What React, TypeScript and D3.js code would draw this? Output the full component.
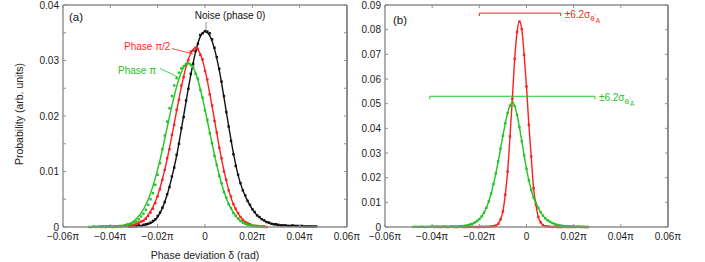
import React from 'react';
import * as d3 from 'd3';

// x in units of π, bins every 0.001π; fits sampled every 0.002π
const BIN = 0.001;
const FIT_STEP = 0.002;

const xTicks = [-0.06, -0.04, -0.02, 0, 0.02, 0.04, 0.06];
const yTicksA = [0, 0.01, 0.02, 0.03, 0.04];
const yMinorA = [0.005, 0.015, 0.025, 0.035];
const yTicksB = [0, 0.01, 0.02, 0.03, 0.04, 0.05, 0.06, 0.07, 0.08, 0.09];

// (a) noise, phase 0
const noiseStart = -0.032;
const noiseDots = [
  0.0001, 0.0001, 0.0002, 0.0001, 0.0003, 0.0002, 0.0004, 0.0005, 0.0006, 0.0008,
  0.0011, 0.0014, 0.002, 0.0026, 0.0035, 0.0045, 0.0059, 0.0072, 0.0091, 0.0107,
  0.013, 0.015, 0.0178, 0.0198, 0.0228, 0.0249, 0.0276, 0.0294, 0.0317, 0.033,
  0.0346, 0.0349, 0.0353, 0.0352, 0.0349, 0.0338, 0.0323, 0.0306, 0.0285, 0.0262,
  0.0236, 0.0207, 0.0181, 0.0155, 0.0131, 0.011, 0.0094, 0.0079, 0.0066, 0.0057,
  0.0047, 0.004, 0.0032, 0.0027, 0.0021, 0.0018, 0.0014, 0.0012, 0.0009, 0.0008,
  0.0006, 0.0005, 0.0005, 0.0004, 0.0003, 0.0003, 0.0003, 0.0002, 0.0002, 0.0003,
  0.0002, 0.0002, 0.0001, 0.0002, 0.0001, 0.0001, 0.0001, 0.0001, 0.0001, 0.0001,
];
const noiseFit = [
  0.0, 0.0001, 0.0002, 0.0003, 0.0005, 0.0009, 0.0018, 0.0034, 0.0058, 0.009,
  0.0128, 0.0176, 0.0226, 0.0274, 0.0315, 0.0343, 0.0352, 0.0345, 0.0321, 0.0283,
  0.0234, 0.0182, 0.0133, 0.0093, 0.0066, 0.0047, 0.0032, 0.0021, 0.0014, 0.0009,
  0.0006, 0.0004, 0.0003, 0.0003, 0.0002, 0.0002, 0.0001, 0.0001, 0.0001, 0.0001,
];

// (a) phase π/2
const halfStart = -0.044;
const halfDots = [
  0.0, 0.0001, 0.0, 0.0001, 0.0001, 0.0, 0.0001, 0.0001, 0.0001, 0.0001,
  0.0002, 0.0002, 0.0003, 0.0003, 0.0004, 0.0006, 0.0008, 0.001,
  0.0011, 0.0015, 0.002, 0.0026, 0.0033, 0.0043, 0.0055, 0.0068, 0.0085, 0.0103,
  0.0124, 0.014, 0.0166, 0.0184, 0.0211, 0.0229, 0.0255, 0.027, 0.0292, 0.0301,
  0.0316, 0.0318, 0.0323,
  0.0321, 0.031, 0.0302, 0.0281, 0.0266, 0.0239, 0.0219, 0.0191, 0.017, 0.0143,
  0.0124, 0.01, 0.0085, 0.0066, 0.0055, 0.0041, 0.0033, 0.0025, 0.0018, 0.0013,
  0.0009, 0.0007, 0.0005, 0.0003, 0.0002, 0.0002, 0.0001, 0.0001, 0.0001, 0.0,
];
const halfFit = [
  0.0, 0.0, 0.0, 0.0001, 0.0001, 0.0001, 0.0002, 0.0004, 0.0007, 0.0012,
  0.0022, 0.0036, 0.0057, 0.0086, 0.0122, 0.0164, 0.0209, 0.0252, 0.0289, 0.0313,
  0.0322, 0.0312, 0.0283, 0.0241, 0.0193, 0.0145, 0.0102, 0.0067, 0.0041, 0.0024,
  0.0013, 0.0007, 0.0003, 0.0002, 0.0001, 0.0,
];

// (a) phase π
const piStart = -0.049;
const piDots = [
  0.0, 0.0, 0.0001, 0.0, 0.0001, 0.0001, 0.0001, 0.0001, 0.0001, 0.0001,
  0.0001, 0.0001, 0.0001, 0.0002, 0.0002, 0.0003, 0.0004, 0.0005, 0.0006, 0.0009,
  0.001, 0.0014, 0.0019, 0.0024, 0.0031, 0.004, 0.005, 0.0061, 0.0076, 0.0094,
  0.0115, 0.014, 0.0165, 0.019, 0.0214, 0.0236, 0.0255, 0.0268, 0.0278, 0.0286,
  0.029, 0.0294, 0.0295,
  0.0292, 0.0289, 0.0276, 0.0267, 0.0247, 0.0233, 0.021, 0.0193, 0.0169, 0.0151,
  0.0128, 0.0112, 0.0092, 0.0079, 0.0063, 0.0053, 0.0041, 0.0034, 0.0025, 0.002,
  0.0015, 0.0011, 0.0008, 0.0006, 0.0004, 0.0003, 0.0002, 0.0002, 0.0001, 0.0001,
  0.0001, 0.0,
];
const piFit = [
  0.0, 0.0001, 0.0001, 0.0001, 0.0001, 0.0001, 0.0001, 0.0002, 0.0005, 0.0008,
  0.0015, 0.0025, 0.004, 0.0061, 0.0088, 0.0121, 0.0159, 0.0199, 0.0236, 0.0267,
  0.0288, 0.0295, 0.0287, 0.0265, 0.0231, 0.0191, 0.015, 0.0111, 0.0078, 0.0052,
  0.0033, 0.002, 0.0011, 0.0006, 0.0003, 0.0002, 0.0001, 0.0,
];

// (b) red and green
const redBStart = -0.04;
const redBDots = [
  0.0001, 0, 0.0001, 0, 0, 0.0001, 0, 0, 0.0001, 0, 0, 0, 0.0001, 0, 0, 0, 0, 0.0001, 0, 0,
  0, 0.0001, 0, 0.0001, 0.0001,
  0.0002, 0.0003, 0.0006, 0.0013, 0.0031, 0.0063, 0.0131, 0.0225, 0.0367, 0.052, 0.0682, 0.079,
  0.0833,
  0.0802, 0.0698, 0.057, 0.0414, 0.0286, 0.0158, 0.009, 0.0041, 0.0019, 0.0008, 0.0003, 0.0002,
  0.0001, 0, 0.0001, 0, 0, 0, 0.0001, 0, 0, 0, 0, 0, 0.0001, 0, 0, 0, 0,
];
const greenBStart = -0.048;
const greenBDots = [
  0, 0.0001, 0, 0.0001, 0.0001, 0, 0.0001, 0.0001, 0.0001, 0.0001,
  0.0001, 0.0001, 0.0001, 0.0001, 0.0002, 0.0001, 0.0002, 0.0002, 0.0002, 0.0002,
  0.0003, 0.0004, 0.0005, 0.0007, 0.001, 0.0013, 0.0018, 0.0024, 0.0032, 0.0043,
  0.0058, 0.0078, 0.0104, 0.0136, 0.0174, 0.0217, 0.0266, 0.0318, 0.037, 0.042,
  0.0462, 0.0492, 0.0505,
  0.049, 0.0455, 0.0405, 0.0348, 0.029, 0.0236, 0.0189, 0.015, 0.012, 0.0097,
  0.0077, 0.006, 0.0046, 0.0035, 0.0027, 0.0021, 0.0016, 0.0012, 0.0009, 0.0007,
  0.0005, 0.0004, 0.0003, 0.0003, 0.0002, 0.0002, 0.0001, 0.0001, 0.0001, 0.0001, 0, 0,
];
// ±6.2σ brackets: [from, to, height]
const redBracket = [-0.02, 0.0145, 0.0867];
const greenBracket = [-0.041, 0.029, 0.053];

const RED = '#ff1f1f';
const GREEN = '#22c422';
const BLACK = '#111';
const GRAY = '#8e8e8e';
const FONT = '"Liberation Sans", Arial, Helvetica, sans-serif';
const TOP = 5;
const BOTTOM = 227;

type Pt = [number, number];
const toPts = (start: number, step: number, vals: number[]): Pt[] =>
  vals.map((v, i) => [start + i * step, v]);

const fmtPi = (v: number) =>
  Math.abs(v) < 1e-9 ? '0' : `${v < 0 ? '−' : ''}${Math.abs(v).toFixed(2)}π`;
const fmtY = (v: number) => (v === 0 ? '0' : v.toFixed(2));

interface Series {
  color: string;
  dots: Pt[];
  fit: Pt[];
}

interface PanelProps {
  left: number;
  right: number;
  yMax: number;
  yMajor: number[];
  yMinor: number[];
  series: Series[];
  extra?: (x: d3.ScaleLinear<number, number>, y: d3.ScaleLinear<number, number>) => React.ReactNode;
}

const Panel = ({ left, right, yMax, yMajor, yMinor, series, extra }: PanelProps) => {
  const x = d3.scaleLinear().domain([-0.06, 0.06]).range([left, right]);
  const y = d3.scaleLinear().domain([0, yMax]).range([BOTTOM, TOP]);
  const line = d3
    .line<Pt>()
    .x((d) => x(d[0]))
    .y((d) => y(d[1]))
    .curve(d3.curveMonotoneX);
  const tl = 3;
  return (
    <g>
      {series.map((s, i) => (
        <g key={i}>
          <path d={line(s.fit) || ''} fill="none" stroke={s.color} strokeWidth={1.4} />
          {s.dots.map((d, j) => (
            <rect
              key={j}
              x={x(d[0]) - 1.2}
              y={y(d[1]) - 1.2}
              width={2.4}
              height={2.4}
              fill={s.color}
            />
          ))}
        </g>
      ))}
      {/* frame */}
      <line x1={left} x2={right} y1={TOP} y2={TOP} stroke="#555" strokeWidth={1} />
      <line x1={left} x2={left} y1={TOP} y2={BOTTOM} stroke={GRAY} strokeWidth={1.4} />
      <line x1={right} x2={right} y1={TOP} y2={BOTTOM} stroke={GRAY} strokeWidth={2} />
      <line x1={left} x2={right} y1={BOTTOM} y2={BOTTOM} stroke={GRAY} strokeWidth={1.4} />
      {xTicks.map((t) => (
        <g key={`x${t}`}>
          <line x1={x(t)} x2={x(t)} y1={BOTTOM} y2={BOTTOM - tl} stroke={GRAY} />
          <line x1={x(t)} x2={x(t)} y1={TOP} y2={TOP + tl} stroke={GRAY} />
          <text x={x(t)} y={240} textAnchor="middle" fontSize={10} fill="#222">
            {fmtPi(t)}
          </text>
        </g>
      ))}
      {yMajor.concat(yMinor).map((t) => (
        <g key={`y${t}`}>
          <line x1={left} x2={left + tl} y1={y(t)} y2={y(t)} stroke={GRAY} />
          <line x1={right} x2={right - tl} y1={y(t)} y2={y(t)} stroke={GRAY} />
        </g>
      ))}
      {yMajor.map((t) => (
        <text key={`yl${t}`} x={left - 4} y={y(t) + 3.5} textAnchor="end" fontSize={10} fill="#222">
          {fmtY(t)}
        </text>
      ))}
      {extra && extra(x, y)}
    </g>
  );
};

const SigmaLabel = ({ x, y, color }: { x: number; y: number; color: string }) => (
  <text x={x} y={y} fontSize={10} fill={color}>
    ±6.2σ
    <tspan fontSize={8} dy={3}>θ</tspan>
    <tspan fontSize={6} dy={-3}>′</tspan>
    <tspan fontSize={6.5} dy={5}>A</tspan>
  </text>
);

const Bracket = ({ b, color, x, y }: { b: number[]; color: string; x: any; y: any }) => {
  const yy = y(b[2]);
  return (
    <path
      d={`M${x(b[0])},${yy + 3}V${yy}H${x(b[1])}V${yy + 3}`}
      fill="none"
      stroke={color}
      strokeWidth={1}
    />
  );
};

const App = () => {
  const seriesA: Series[] = [
    { color: BLACK, dots: toPts(noiseStart, BIN, noiseDots), fit: toPts(noiseStart, FIT_STEP, noiseFit) },
    { color: RED, dots: toPts(halfStart, BIN, halfDots), fit: toPts(halfStart, FIT_STEP, halfFit) },
    { color: GREEN, dots: toPts(piStart, BIN, piDots), fit: toPts(piStart, FIT_STEP, piFit) },
  ];
  const redB = toPts(redBStart, BIN, redBDots);
  const greenB = toPts(greenBStart, BIN, greenBDots);
  const seriesB: Series[] = [
    { color: RED, dots: redB, fit: redB },
    { color: GREEN, dots: greenB, fit: greenB },
  ];
  return (
    <svg
      width={705}
      height={262}
      style={{ position: 'absolute', left: 0, top: 0, background: '#fff' }}
      fontFamily={FONT}
    >
      <Panel
        left={63}
        right={347}
        yMax={0.04}
        yMajor={yTicksA}
        yMinor={yMinorA}
        series={seriesA}
        extra={() => (
          <g>
            <text x={69} y={21} fontSize={11.5} fill="#111">(a)</text>
            <text x={230} y={19} fontSize={10} textAnchor="middle" fill="#111">Noise (phase 0)</text>
            <line x1={206} x2={206} y1={22} y2={30} stroke="#777" strokeWidth={0.8} />
            <text x={124} y={50} fontSize={10} fill={RED}>Phase π/2</text>
            <line x1={172} x2={193} y1={48.5} y2={54} stroke={RED} strokeWidth={0.8} />
            <text x={118} y={73.5} fontSize={10} fill={GREEN}>Phase π</text>
            <line x1={160} x2={178} y1={68.5} y2={77} stroke={GREEN} strokeWidth={0.8} />
          </g>
        )}
      />
      <Panel
        left={385}
        right={668}
        yMax={0.09}
        yMajor={yTicksB}
        yMinor={[]}
        series={seriesB}
        extra={(x, y) => (
          <g>
            <text x={393} y={24} fontSize={11.5} fill="#111">(b)</text>
            <Bracket b={redBracket} color={RED} x={x} y={y} />
            <SigmaLabel x={x(redBracket[1]) + 4} y={y(redBracket[2]) + 5} color={RED} />
            <Bracket b={greenBracket} color={GREEN} x={x} y={y} />
            <SigmaLabel x={x(greenBracket[1]) + 4} y={y(greenBracket[2]) + 5} color={GREEN} />
          </g>
        )}
      />
      <text
        transform="translate(23,114) rotate(-90)"
        textAnchor="middle"
        fontSize={10.5}
        fill="#222"
      >
        Probability (arb. units)
      </text>
      <text x={205} y={259} textAnchor="middle" fontSize={10.5} fill="#222">
        Phase deviation δ (rad)
      </text>
    </svg>
  );
};

export default App;
